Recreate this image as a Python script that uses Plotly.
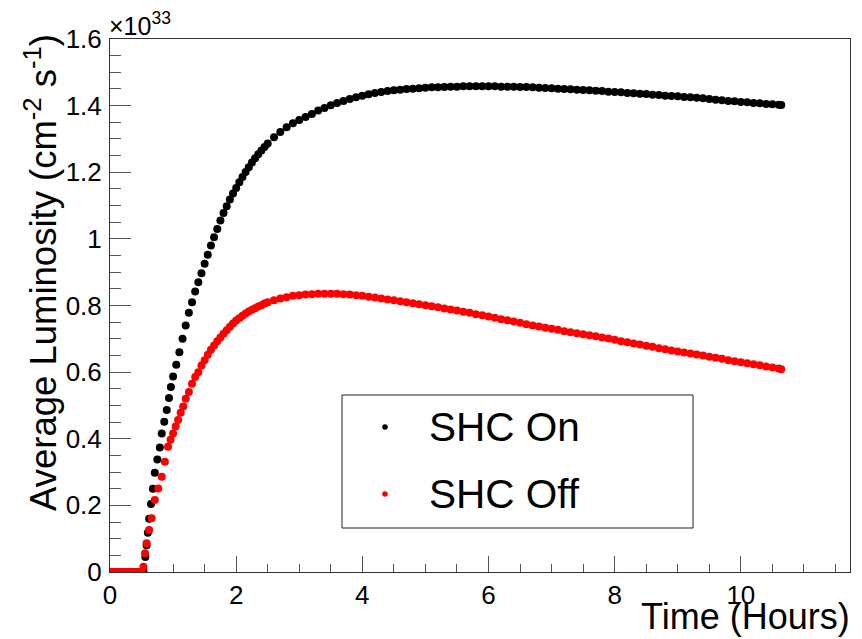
import plotly.graph_objects as go

# ---------------- data (luminosity in units of 1e33 cm^-2 s^-1) ----------------
time_on = [0.00, 0.05, 0.10, 0.15, 0.20, 0.25, 0.30, 0.35, 0.40, 0.45, 0.50,
           0.53, 0.56, 0.58, 0.60, 0.62, 0.65, 0.68, 0.71, 0.75, 0.79, 0.82, 0.86, 0.90, 0.935, 0.965,
           1.00, 1.05, 1.10, 1.15, 1.20, 1.25, 1.30, 1.35, 1.40, 1.45, 1.50, 1.55, 1.60, 1.65, 1.70,
           1.75, 1.80, 1.85, 1.90, 1.95, 2.00, 2.05, 2.10, 2.15, 2.20, 2.25, 2.30, 2.35, 2.40, 2.45,
           2.5, 2.6, 2.7, 2.8, 2.9, 3.0, 3.1, 3.2, 3.3, 3.4, 3.5, 3.6, 3.7, 3.8, 3.9,
           4.0, 4.1, 4.2, 4.3, 4.4, 4.5, 4.6, 4.7, 4.8, 4.9, 5.0, 5.1, 5.2, 5.3, 5.4, 5.5, 5.6, 5.7, 5.8, 5.9,
           6.0, 6.1, 6.2, 6.3, 6.4, 6.5, 6.6, 6.7, 6.8, 6.9, 7.0, 7.1, 7.2, 7.3, 7.4, 7.5, 7.6, 7.7, 7.8, 7.9,
           8.0, 8.1, 8.2, 8.3, 8.4, 8.5, 8.6, 8.7, 8.8, 8.9, 9.0, 9.1, 9.2, 9.3, 9.4, 9.5, 9.6, 9.7, 9.8, 9.9,
           10.0, 10.1, 10.2, 10.3, 10.4, 10.5, 10.6, 10.64]
lumi_on = [0, 0, 0, 0, 0, 0, 0, 0, 0, 0, 0,
           0.005, 0.045, 0.080, 0.118, 0.160, 0.204, 0.250, 0.298, 0.338, 0.374, 0.416, 0.451, 0.486, 0.522, 0.555,
           0.587, 0.622, 0.660, 0.700, 0.740, 0.778, 0.810, 0.842, 0.870, 0.897, 0.925, 0.952, 0.980, 1.005, 1.030,
           1.055, 1.078, 1.098, 1.118, 1.136, 1.153, 1.170, 1.186, 1.201, 1.215, 1.229, 1.242, 1.254, 1.265, 1.276,
           1.286, 1.305, 1.321, 1.335, 1.347, 1.357, 1.366, 1.375, 1.385, 1.393, 1.401, 1.408, 1.414, 1.420, 1.425,
           1.430, 1.434, 1.438, 1.441, 1.444, 1.446, 1.448, 1.450, 1.451, 1.452, 1.454, 1.455, 1.455, 1.456, 1.457,
           1.457, 1.458, 1.458, 1.458, 1.458,
           1.458, 1.458, 1.457, 1.457, 1.457, 1.456, 1.456, 1.455, 1.454, 1.453, 1.452, 1.451, 1.450, 1.449, 1.448,
           1.447, 1.446, 1.445, 1.444, 1.442,
           1.441, 1.440, 1.438, 1.437, 1.436, 1.435, 1.433, 1.432, 1.430, 1.429, 1.428, 1.426, 1.425, 1.424, 1.422,
           1.420, 1.418, 1.416, 1.414, 1.413,
           1.411, 1.410, 1.408, 1.407, 1.405, 1.404, 1.403, 1.402]

time_off = [0.00, 0.05, 0.10, 0.15, 0.20, 0.25, 0.30, 0.35, 0.40, 0.45, 0.50,
            0.53, 0.555, 0.58, 0.62, 0.66, 0.71, 0.765, 0.82, 0.87, 0.92, 0.96,
            1.00, 1.04, 1.08, 1.12, 1.16, 1.20, 1.25, 1.30, 1.35, 1.40, 1.45, 1.50, 1.55, 1.60, 1.65, 1.70,
            1.75, 1.80, 1.85, 1.90, 1.95, 2.00, 2.05, 2.10, 2.15, 2.20, 2.25, 2.30, 2.35, 2.40, 2.45,
            2.5, 2.6, 2.7, 2.8, 2.9, 3.0, 3.1, 3.2, 3.3, 3.4, 3.5, 3.6, 3.7, 3.8, 3.9,
            4.0, 4.1, 4.2, 4.3, 4.4, 4.5, 4.6, 4.7, 4.8, 4.9, 5.0, 5.1, 5.2, 5.3, 5.4, 5.5, 5.6, 5.7, 5.8, 5.9,
            6.0, 6.1, 6.2, 6.3, 6.4, 6.5, 6.6, 6.7, 6.8, 6.9, 7.0, 7.1, 7.2, 7.3, 7.4, 7.5, 7.6, 7.7, 7.8, 7.9,
            8.0, 8.1, 8.2, 8.3, 8.4, 8.5, 8.6, 8.7, 8.8, 8.9, 9.0, 9.1, 9.2, 9.3, 9.4, 9.5, 9.6, 9.7, 9.8, 9.9,
            10.0, 10.1, 10.2, 10.3, 10.4, 10.5, 10.6, 10.64]
lumi_off = [0, 0, 0, 0, 0, 0, 0, 0, 0, 0, 0,
            0.016, 0.056, 0.086, 0.126, 0.161, 0.216, 0.251, 0.286, 0.331, 0.376, 0.397,
            0.416, 0.437, 0.456, 0.478, 0.497, 0.520, 0.540, 0.565, 0.585, 0.600, 0.620, 0.636, 0.652, 0.667,
            0.680, 0.693,
            0.704, 0.715, 0.726, 0.736, 0.746, 0.755, 0.762, 0.769, 0.776, 0.782, 0.787, 0.792, 0.797, 0.801, 0.806,
            0.810, 0.816, 0.821, 0.825, 0.829, 0.831, 0.833, 0.834, 0.835, 0.835, 0.835, 0.835, 0.834, 0.833, 0.831,
            0.829, 0.826, 0.824, 0.821, 0.818, 0.816, 0.813, 0.810, 0.807, 0.804, 0.801, 0.798, 0.795, 0.791, 0.788,
            0.785, 0.781, 0.778, 0.774, 0.771,
            0.767, 0.763, 0.759, 0.756, 0.752, 0.748, 0.744, 0.740, 0.737, 0.733, 0.730, 0.727, 0.723, 0.720, 0.717,
            0.714, 0.711, 0.708, 0.704, 0.701,
            0.697, 0.693, 0.690, 0.686, 0.683, 0.679, 0.676, 0.672, 0.669, 0.665, 0.662, 0.659, 0.656, 0.653, 0.650,
            0.646, 0.643, 0.640, 0.636, 0.633,
            0.630, 0.627, 0.624, 0.621, 0.617, 0.614, 0.611, 0.609]

series_names = ["SHC On", "SHC Off"]
series_colors = ["black", "#ff0000"]
x_ticks = [0, 2, 4, 6, 8, 10]
y_ticks = [0, 0.2, 0.4, 0.6, 0.8, 1.0, 1.2, 1.4, 1.6]
y_tick_labels = ["0", "0.2", "0.4", "0.6", "0.8", "1", "1.2", "1.4", "1.6"]

# ---------------- layout geometry ----------------
W, H = 862, 639
L, R, T, B = 110, 12, 39, 67
PW, PH = W - L - R, H - T - B


def px(xp):
    return (xp - L) / PW


def py(yp):
    return (H - B - yp) / PH


FONT = "Liberation Sans, Arial, Helvetica, sans-serif"

fig = go.Figure()
fig.add_trace(go.Scatter(x=time_on, y=lumi_on, mode="markers", name=series_names[0],
                         marker=dict(color=series_colors[0], size=8, line=dict(width=0)),
                         showlegend=False, hoverinfo="skip"))
fig.add_trace(go.Scatter(x=time_off, y=lumi_off, mode="markers", name=series_names[1],
                         marker=dict(color=series_colors[1], size=8, line=dict(width=0)),
                         showlegend=False, hoverinfo="skip"))

axis_common = dict(showgrid=False, zeroline=False, showline=True, linecolor="#333",
                   linewidth=1, mirror=True, ticks="inside", tickcolor="#555",
                   tickwidth=1, automargin=False,
                   tickfont=dict(family=FONT, size=26, color="black"))

fig.update_xaxes(range=[0, 11.73], tickvals=x_ticks, ticklen=16,
                 minor=dict(dtick=0.5, ticklen=8, ticks="inside", tickcolor="#555"),
                 **axis_common)
fig.update_yaxes(range=[0, 1.6], tickvals=y_ticks, ticktext=y_tick_labels,
                 ticklen=21, ticklabelstandoff=2,
                 minor=dict(dtick=0.05, ticklen=11, ticks="inside", tickcolor="#555"),
                 **axis_common)

annotations = [
    dict(text="Time (Hours)", x=px(852), y=py(616), xref="paper", yref="paper",
         xanchor="right", yanchor="middle", showarrow=False,
         font=dict(family=FONT, size=36, color="black")),
    dict(text="Average Luminosity (cm<sup>-2</sup> s<sup>-1</sup>)", x=px(41), y=py(273),
         xref="paper", yref="paper", xanchor="center", yanchor="middle", textangle=-90,
         showarrow=False, font=dict(family=FONT, size=36.5, color="black")),
    dict(text="×10<sup>33</sup>", x=px(107), y=py(24), xref="paper", yref="paper",
         xanchor="left", yanchor="middle", showarrow=False,
         font=dict(family=FONT, size=25, color="black")),
]

# legend box (drawn manually to match the ROOT TLegend)
leg_x0, leg_x1, leg_y0, leg_y1 = 342, 693, 395, 528
shapes = [dict(type="rect", xref="paper", yref="paper",
               x0=px(leg_x0), x1=px(leg_x1), y0=py(leg_y1), y1=py(leg_y0),
               line=dict(color="#222", width=1), fillcolor="white", layer="above")]
row_y = [427, 494]
for name, col, yy in zip(series_names, series_colors, row_y):
    r = 2.8
    shapes.append(dict(type="circle", xref="paper", yref="paper",
                       x0=px(385 - r), x1=px(385 + r), y0=py(yy + r), y1=py(yy - r),
                       fillcolor=col, line=dict(color=col, width=0), layer="above"))
    annotations.append(dict(text=name, x=px(427), y=py(yy), xref="paper", yref="paper",
                            xanchor="left", yanchor="middle", showarrow=False,
                            font=dict(family=FONT, size=40.5, color="black")))

fig.update_layout(width=W, height=H, margin=dict(l=L, r=R, t=T, b=B, autoexpand=False),
                  paper_bgcolor="white", plot_bgcolor="white", hovermode=False,
                  annotations=annotations, shapes=shapes, showlegend=False)

fig.write_html("out.html", config={"displayModeBar": False, "staticPlot": True})

# remove the default 8px body margin of the browser so the figure fills the window
with open("out.html", "r", encoding="utf-8") as f:
    html = f.read()
html = html.replace("<head>", "<head><style>html,body{margin:0;padding:0;overflow:hidden;}</style>", 1)
with open("out.html", "w", encoding="utf-8") as f:
    f.write(html)
